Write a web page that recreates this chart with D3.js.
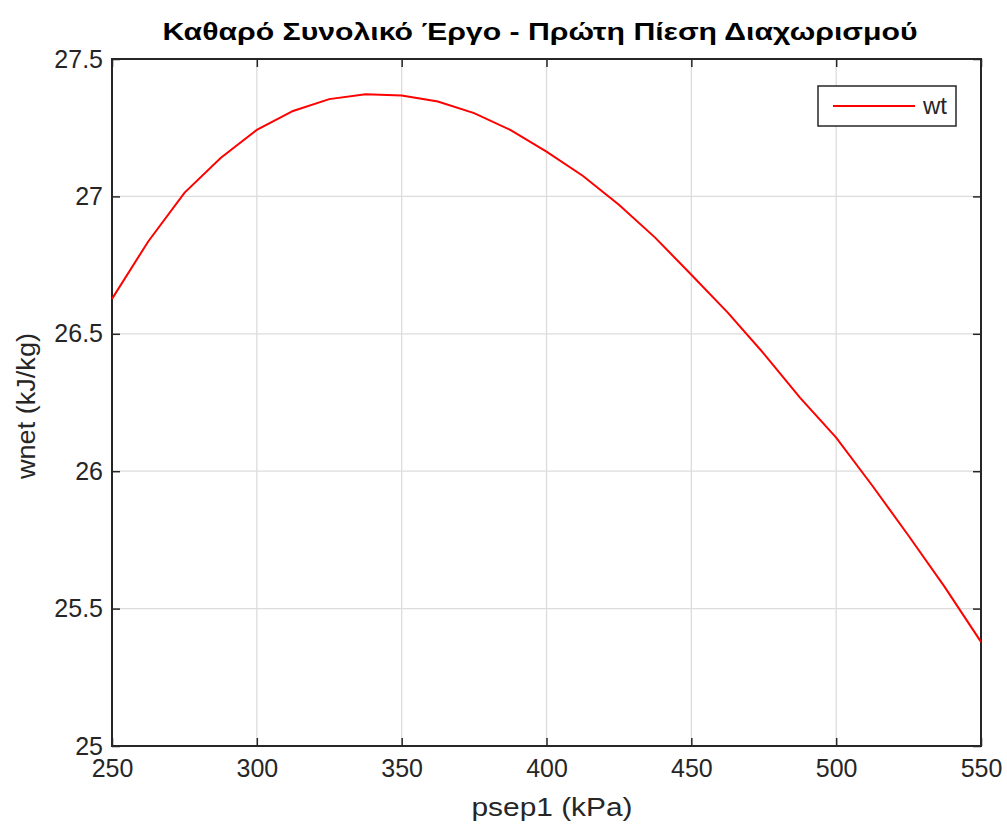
<!DOCTYPE html>
<html>
<head>
<meta charset="utf-8">
<script src="https://cdn.jsdelivr.net/npm/d3@7"></script>
<style>
  body { margin: 0; background: #fff; }
  text { font-family: "Liberation Sans", Arial, sans-serif; }
</style>
</head>
<body>
<div id="chart"></div>
<script>
const psep1 = [250, 262.5, 275, 287.5, 300, 312.5, 325, 337.5, 350, 362.5, 375, 387.5, 400,
  412.5, 425, 437.5, 450, 462.5, 475, 487.5, 500, 512.5, 525, 537.5, 550];
const wt = [26.627, 26.836, 27.013, 27.140, 27.242, 27.311, 27.354, 27.372, 27.367, 27.345,
  27.303, 27.242, 27.163, 27.075, 26.970, 26.850, 26.715, 26.578, 26.428, 26.268, 26.122,
  25.947, 25.765, 25.578, 25.379];
const xTicks = [250, 300, 350, 400, 450, 500, 550];
const yTicks = [25, 25.5, 26, 26.5, 27, 27.5];

const width = 1007;
const height = 826;
const margin = { top: 59, bottom: 80, left: 112, right: 26 };

const svg = d3.select('#chart')
  .append('svg')
  .attr('width', width)
  .attr('height', height);

const x = d3.scaleLinear()
  .domain([250, 550])
  .range([margin.left, width - margin.right]);

const y = d3.scaleLinear()
  .domain([25, 27.5])
  .range([height - margin.bottom, margin.top]);

// grid
svg.append("g")
  .selectAll("line")
  .data(xTicks.slice(1, -1))
  .join("line")
    .attr("x1", d => x(d)).attr("x2", d => x(d))
    .attr("y1", margin.top).attr("y2", height - margin.bottom)
    .attr("stroke", "#dcdcdc").attr("stroke-width", 1.3);

svg.append("g")
  .selectAll("line")
  .data(yTicks.slice(1, -1))
  .join("line")
    .attr("y1", d => y(d)).attr("y2", d => y(d))
    .attr("x1", margin.left).attr("x2", width - margin.right)
    .attr("stroke", "#dcdcdc").attr("stroke-width", 1.3);

function styleAxis(g) {
  g.select(".domain").remove();
  g.selectAll(".tick line").attr("stroke", "#262626").attr("stroke-width", 1.5);
  g.selectAll(".tick text")
    .attr("fill", "#262626")
    .attr("font-size", "25px");
}

svg.append("g")
  .attr("transform", `translate(0,${height - margin.bottom})`)
  .call(d3.axisBottom(x).tickValues(xTicks).tickSize(-8).tickPadding(13).tickFormat(d3.format("d")))
  .call(styleAxis);

svg.append("g")
  .attr("transform", `translate(${margin.left},0)`)
  .call(d3.axisLeft(y).tickValues(yTicks).tickSize(-8).tickPadding(9).tickFormat(d => d))
  .call(styleAxis);

svg.append("g")
  .attr("transform", `translate(0,${margin.top})`)
  .call(d3.axisTop(x).tickValues(xTicks).tickSize(-8).tickFormat(""))
  .call(styleAxis);

svg.append("g")
  .attr("transform", `translate(${width - margin.right},0)`)
  .call(d3.axisRight(y).tickValues(yTicks).tickSize(-8).tickFormat(""))
  .call(styleAxis);

// box
svg.append("rect")
  .attr("x", margin.left).attr("y", margin.top)
  .attr("width", width - margin.left - margin.right)
  .attr("height", height - margin.top - margin.bottom)
  .attr("fill", "none")
  .attr("stroke", "#262626")
  .attr("stroke-width", 2);

// line
const data = psep1.map((p, i) => ({ p: p, w: wt[i] }));
svg.append("path")
  .datum(data)
  .attr("fill", "none")
  .attr("stroke", "#ff0000")
  .attr("stroke-width", 2)
  .attr("d", d3.line().x(d => x(d.p)).y(d => y(d.w)));

// legend
const lg = svg.append("g").attr("transform", "translate(818,86)");
lg.append("rect")
  .attr("width", 138).attr("height", 40)
  .attr("fill", "#fff").attr("stroke", "#262626").attr("stroke-width", 1.5);
lg.append("line")
  .attr("x1", 15).attr("x2", 97).attr("y1", 20).attr("y2", 20)
  .attr("stroke", "#ff0000").attr("stroke-width", 2);
lg.append("text")
  .attr("x", 105).attr("y", 28)
  .attr("font-size", "24px").attr("fill", "#262626")
  .text("wt");

// title and labels
svg.append("text")
  .attr("x", 540)
  .attr("y", 40)
  .attr("text-anchor", "middle")
  .attr("font-size", "24px")
  .attr("font-weight", "bold")
  .attr("fill", "#000")
  .attr("textLength", 755)
  .attr("lengthAdjust", "spacingAndGlyphs")
  .text("Καθαρό Συνολικό Έργο - Πρώτη Πίεση Διαχωρισμού");

svg.append("text")
  .attr("x", 552)
  .attr("y", 816)
  .attr("text-anchor", "middle")
  .attr("font-size", "26px")
  .attr("fill", "#262626")
  .attr("textLength", 161)
  .attr("lengthAdjust", "spacingAndGlyphs")
  .text("psep1 (kPa)");

svg.append("text")
  .attr("transform", "translate(35,406) rotate(-90)")
  .attr("text-anchor", "middle")
  .attr("font-size", "26px")
  .attr("fill", "#262626")
  .attr("textLength", 146)
  .attr("lengthAdjust", "spacingAndGlyphs")
  .text("wnet (kJ/kg)");
</script>
</body>
</html>
